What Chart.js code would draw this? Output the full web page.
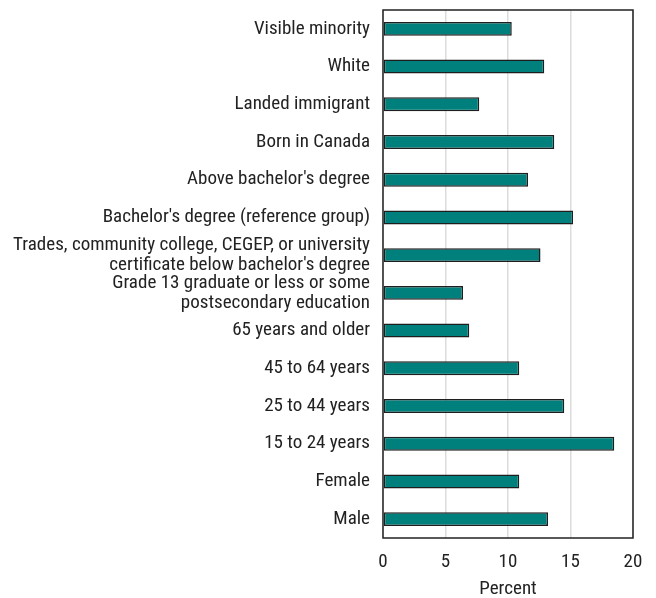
<!DOCTYPE html>
<html>
<head>
<meta charset="utf-8">
<script src="https://cdn.jsdelivr.net/npm/chart.js@4.4.1/dist/chart.umd.min.js"></script>
<style>
  html, body { margin: 0; padding: 0; background: #fff; }
  #wrap { width: 656px; height: 598px; }
</style>
</head>
<body>
<div id="wrap"><canvas id="chart" width="656" height="598"></canvas></div>
<script>
// Categories, top to bottom
const categories = [
    'Visible minority',
    'White',
    'Landed immigrant',
    'Born in Canada',
    "Above bachelor's degree",
    "Bachelor's degree (reference group)",
    ['Trades, community college, CEGEP, or university', "certificate below bachelor's degree"],
    ['Grade 13 graduate or less or some', 'postsecondary education'],
    '65 years and older',
    '45 to 64 years',
    '25 to 44 years',
    '15 to 24 years',
    'Female',
    'Male'
];

// Percent values
const percentValues = [10.3, 12.9, 7.7, 13.7, 11.6, 15.2, 12.6, 6.4, 6.9, 10.9, 14.5, 18.5, 10.9, 13.2];

const xTicks = [0, 5, 10, 15, 20];

const FONT = '"Liberation Sans Narrow", "Roboto Condensed", "Liberation Sans", Arial, sans-serif';

// Cadre noir autour de la zone de tracé
const boxPlugin = {
    id: 'plotBox',
    afterDraw: function(chart) {
        const a = chart.chartArea;
        const ctx = chart.ctx;
        ctx.save();
        ctx.strokeStyle = '#222';
        ctx.lineWidth = 1.5;
        ctx.strokeRect(a.left, a.top, a.right - a.left, a.bottom - a.top);
        ctx.restore();
    }
};

new Chart(document.getElementById('chart'), {
    type: 'bar',
    data: {
        labels: categories,
        datasets: [{
            data: percentValues,
            backgroundColor: '#00807c',
            borderColor: '#1e1e1e',
            borderWidth: 1.5,
            borderSkipped: false,
            barPercentage: 0.37,
            categoryPercentage: 1
        }]
    },
    options: {
        indexAxis: 'y',
        responsive: false,
        animation: false,
        layout: { padding: { top: 10, right: 23, left: 0, bottom: 0 } },
        plugins: {
            legend: { display: false },
            tooltip: { enabled: false }
        },
        scales: {
            x: {
                min: 0,
                max: 20,
                afterBuildTicks: function(scale) {
                    scale.ticks = xTicks.map(v => ({ value: v }));
                },
                afterFit: function(scale) {
                    scale.height = 60;
                    scale.paddingLeft = 0;
                    scale.paddingRight = 0;
                },
                grid: { color: '#dcdcdc', lineWidth: 1.5, drawTicks: false },
                border: { display: false },
                ticks: {
                    color: '#222',
                    padding: 13,
                    maxRotation: 0,
                    font: { family: FONT, size: 19 }
                },
                title: {
                    display: true,
                    text: 'Percent',
                    color: '#222',
                    padding: { top: 8, bottom: 0 },
                    font: { family: FONT, size: 19, lineHeight: 0.9 }
                }
            },
            y: {
                afterFit: function(scale) {
                    scale.width = 383;
                    scale.paddingTop = 0;
                    scale.paddingBottom = 0;
                },
                grid: { display: false, drawTicks: false },
                border: { display: false },
                ticks: {
                    color: '#222',
                    padding: 13,
                    autoSkip: false,
                    font: { family: FONT, size: 19, lineHeight: 1.05 }
                }
            }
        }
    },
    plugins: [boxPlugin]
});
</script>
</body>
</html>
